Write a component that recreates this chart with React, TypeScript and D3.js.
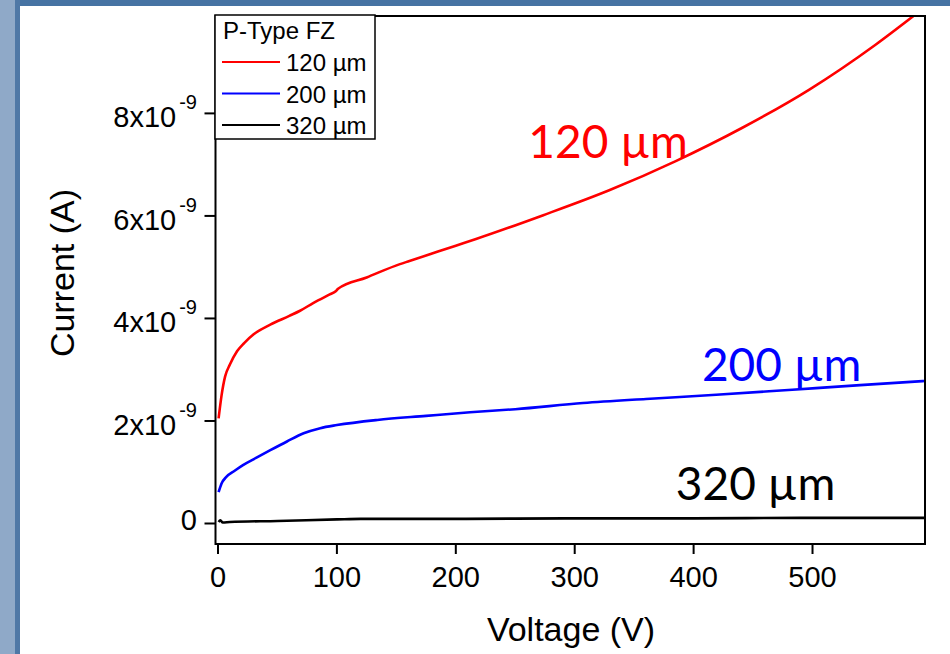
import React, { useRef, useEffect } from 'react'
import * as d3 from 'd3'

// readings: voltage (V) and current (nA)
const v120 = [0.5, 3, 6, 10, 16, 22, 30, 44, 60, 69, 80, 94, 99, 101, 125, 153, 161, 200, 217, 273, 329, 385, 441, 497, 553, 586]
const i120 = [2.05, 2.5, 2.87, 3.1, 3.36, 3.52, 3.69, 3.88, 4.05, 4.15, 4.3, 4.47, 4.53, 4.58, 4.8, 5.06, 5.12, 5.42, 5.55, 6.01, 6.5, 7.07, 7.72, 8.46, 9.34, 9.92]

const v200 = [0.5, 3, 7, 14, 21, 32, 44, 58, 72, 86, 100, 134, 175, 212, 250, 307, 360, 419, 483, 540, 594]
const i200 = [0.61, 0.78, 0.91, 1.03, 1.14, 1.28, 1.43, 1.6, 1.76, 1.86, 1.92, 2.02, 2.1, 2.17, 2.23, 2.35, 2.43, 2.51, 2.61, 2.7, 2.78]

const v320 = [0.5, 2, 4, 10, 50, 100, 120, 200, 300, 400, 490, 594]
const i320 = [0.03, 0.06, 0.02, 0.03, 0.05, 0.08, 0.09, 0.09, 0.1, 0.1, 0.11, 0.11]

const seriesNames = ['120 µm', '200 µm', '320 µm']
const seriesColors = ['#ff0000', '#0000ff', '#000000']

const xTicks = [0, 100, 200, 300, 400, 500]
const yTicks = [0, 2, 4, 6, 8]

// where the big in-plot labels sit, in data units (V, nA)
const labelV = [261, 407, 385]
const labelI = [7.13, 2.77, 0.45]

const App = () => {
  const container = useRef(null)

  const width = 950
  const height = 654
  const left = 215.5
  const right = 925
  const top = 16
  const bottom = 544

  useEffect(() => {
    document.body.style.margin = '0'
    const svg = d3.select(container.current)
    svg.selectAll('*').remove()

    // slide background
    svg.append('rect').attr('width', width).attr('height', height).attr('fill', '#ffffff')
    svg.append('rect').attr('width', width).attr('height', 6).attr('fill', '#4673a3')
    svg.append('rect').attr('width', 15).attr('height', height).attr('fill', '#8fa9c8')
    svg.append('rect').attr('x', 15).attr('width', 5).attr('height', height).attr('fill', '#4f78a6')

    const x = d3.scaleLinear().domain([-2.1, 594.6]).range([left, right])
    const y = d3.scaleLinear().domain([-0.4, 9.9]).range([bottom, top])

    const font = 'Liberation Sans, Arial, Helvetica, sans-serif'

    const plot = svg.append('g')

    const series = [
      v120.map((v, i) => [v, i120[i]]),
      v200.map((v, i) => [v, i200[i]]),
      v320.map((v, i) => [v, i320[i]]),
    ]

    const line = d3.line()
      .x(d => x(d[0]))
      .y(d => y(d[1]))
      .curve(d3.curveMonotoneX)

    plot.append('clipPath').attr('id', 'clip')
      .append('rect').attr('x', left).attr('y', top).attr('width', right - left).attr('height', bottom - top)

    plot.selectAll('path.series')
      .data(series)
      .enter()
      .append('path')
        .attr('class', 'series')
        .attr('d', d => line(d))
        .attr('clip-path', 'url(#clip)')
        .attr('fill', 'none')
        .attr('stroke', (d, i) => seriesColors[i])
        .attr('stroke-width', 2.6)

    // frame
    svg.append('rect')
      .attr('x', left).attr('y', top)
      .attr('width', right - left).attr('height', bottom - top)
      .attr('fill', 'none').attr('stroke', '#000').attr('stroke-width', 2)

    // y axis
    const yAxis = svg.append('g')
    yAxis.selectAll('line')
      .data(yTicks).enter().append('line')
        .attr('x1', left - 11).attr('x2', left)
        .attr('y1', d => y(d)).attr('y2', d => y(d))
        .attr('stroke', '#000').attr('stroke-width', 2)
    const yLabels = yAxis.selectAll('text')
      .data(yTicks).enter().append('text')
        .attr('x', 197)
        .attr('y', d => y(d) + (d === 0 ? 7 : 14))
        .attr('text-anchor', 'end')
        .style('font-family', font)
        .style('font-size', '29px')
        .style('fill', '#000')
    yLabels.append('tspan').text(d => d === 0 ? '0' : `${d}x10`)
    yLabels.filter(d => d !== 0).append('tspan')
      .attr('dy', -18)
      .attr('dx', 3)
      .style('font-size', '20px')
      .text('-9')

    // x axis
    const xAxis = svg.append('g')
    xAxis.selectAll('line')
      .data(xTicks).enter().append('line')
        .attr('x1', d => x(d)).attr('x2', d => x(d))
        .attr('y1', bottom).attr('y2', bottom + 10)
        .attr('stroke', '#000').attr('stroke-width', 2)
    xAxis.selectAll('text')
      .data(xTicks).enter().append('text')
        .attr('x', d => x(d))
        .attr('y', 587)
        .attr('text-anchor', 'middle')
        .style('font-family', font)
        .style('font-size', '29px')
        .style('fill', '#000')
        .text(d => d)

    // axis titles
    svg.append('text')
      .attr('x', 571).attr('y', 641)
      .attr('text-anchor', 'middle')
      .style('font-family', font)
      .style('font-size', '34px')
      .style('fill', '#000')
      .text('Voltage (V)')

    svg.append('text')
      .attr('transform', 'translate(74, 273) rotate(-90)')
      .attr('text-anchor', 'middle')
      .style('font-family', font)
      .style('font-size', '34px')
      .style('fill', '#000')
      .text('Current (A)')

    // legend
    const legend = svg.append('g')
    legend.append('rect')
      .attr('x', 215).attr('y', 15).attr('width', 160).attr('height', 124)
      .attr('fill', '#fff').attr('stroke', '#000').attr('stroke-width', 1.5)
    legend.append('text')
      .attr('x', 223).attr('y', 39)
      .style('font-family', font).style('font-size', '24px').style('fill', '#000')
      .text('P-Type FZ')
    const rows = legend.selectAll('g.row')
      .data(seriesNames).enter().append('g')
        .attr('class', 'row')
        .attr('transform', (d, i) => `translate(0, ${62 + i * 31.5})`)
    rows.append('line')
      .attr('x1', 222).attr('x2', 280)
      .attr('stroke', (d, i) => seriesColors[i]).attr('stroke-width', 2)
    rows.append('text')
      .attr('x', 286).attr('y', 9)
      .style('font-family', font).style('font-size', '24px').style('fill', '#000')
      .text(d => d)

    // in-plot labels
    svg.selectAll('text.tag')
      .data(seriesNames).enter().append('text')
        .attr('class', 'tag')
        .attr('x', (d, i) => x(labelV[i]))
        .attr('y', (d, i) => y(labelI[i]))
        .style('font-family', 'Lato, sans-serif')
        .style('font-size', '46px')
        .style('fill', (d, i) => seriesColors[i])
        .text(d => d)
  }, [])

  return (
    <svg width={width} height={height} ref={container} style={{ display: 'block' }} />
  )
}

export default App
